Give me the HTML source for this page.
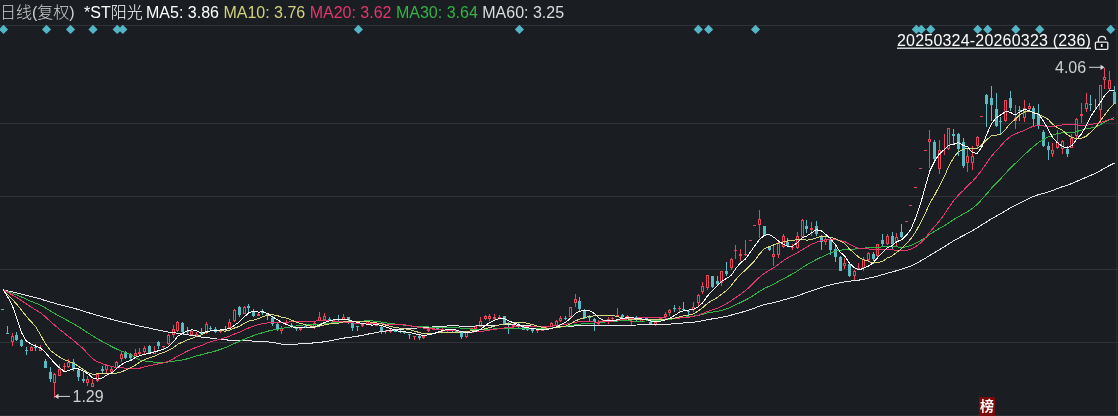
<!DOCTYPE html>
<html><head><meta charset="utf-8"><title>K</title>
<style>
html,body{margin:0;padding:0;background:#1a1d21;overflow:hidden}
body{width:1118px;height:416px;position:relative;font-family:"Liberation Sans","Noto Sans CJK SC",sans-serif;font-size:16px;line-height:18px;color:#fff}
.t{position:absolute;white-space:pre}
svg{position:absolute;left:0;top:0}
.c{position:relative;top:0px;font-weight:300}
</style></head><body>
<svg width="1118" height="416" viewBox="0 0 1118 416">
<rect x="0" y="25" width="1118" height="1" fill="#2f3237"/><rect x="0" y="123" width="1118" height="1" fill="#2f3237"/><rect x="0" y="196" width="1118" height="1" fill="#2f3237"/><rect x="0" y="269" width="1118" height="1" fill="#2f3237"/><rect x="0" y="342" width="1118" height="1" fill="#2f3237"/>
<rect x="0" y="410" width="1118" height="1" fill="#1e2125"/>
<rect x="0" y="415" width="1118" height="1" fill="#2b2e33"/>
<rect x="1116" y="0" width="1" height="416" fill="#2a2d32"/>
<path d="M-1.1,29.4L3.5,24.8L8.1,29.4L3.5,34Z" fill="#52b6c5"/><path d="M41.9,29.4L46.5,24.8L51.1,29.4L46.5,34Z" fill="#52b6c5"/><path d="M65.9,29.4L70.5,24.8L75.1,29.4L70.5,34Z" fill="#52b6c5"/><path d="M88.4,29.4L93.0,24.8L97.6,29.4L93.0,34Z" fill="#52b6c5"/><path d="M112.6,29.4L117.2,24.8L121.8,29.4L117.2,34Z" fill="#52b6c5"/><path d="M118.2,29.4L122.8,24.8L127.4,29.4L122.8,34Z" fill="#52b6c5"/><path d="M353.8,29.4L358.4,24.8L363.0,29.4L358.4,34Z" fill="#52b6c5"/><path d="M514.8,29.4L519.4,24.8L524.0,29.4L519.4,34Z" fill="#52b6c5"/><path d="M693.7,29.4L698.3,24.8L702.9,29.4L698.3,34Z" fill="#52b6c5"/><path d="M704.0,29.4L708.6,24.8L713.2,29.4L708.6,34Z" fill="#52b6c5"/><path d="M750.9,29.4L755.5,24.8L760.1,29.4L755.5,34Z" fill="#52b6c5"/><path d="M911.7,29.4L916.3,24.8L920.9,29.4L916.3,34Z" fill="#52b6c5"/><path d="M916.7,29.4L921.3,24.8L925.9,29.4L921.3,34Z" fill="#52b6c5"/><path d="M926.1,29.4L930.7,24.8L935.3,29.4L930.7,34Z" fill="#52b6c5"/><path d="M973.1,29.4L977.7,24.8L982.3,29.4L977.7,34Z" fill="#52b6c5"/><path d="M983.1,29.4L987.7,24.8L992.3,29.4L987.7,34Z" fill="#52b6c5"/><path d="M1011.2,29.4L1015.8,24.8L1020.4,29.4L1015.8,34Z" fill="#52b6c5"/><path d="M1035.1,29.4L1039.7,24.8L1044.3,29.4L1039.7,34Z" fill="#52b6c5"/><path d="M1106.1,29.4L1110.7,24.8L1115.3,29.4L1110.7,34Z" fill="#52b6c5"/>
<g shape-rendering="crispEdges">
<rect x="1" y="309" width="3" height="1" fill="#5abcc2"/>
<rect x="7" y="326" width="1" height="8" fill="#5abcc2"/>
<rect x="6" y="333" width="3" height="1" fill="#5abcc2"/>
<rect x="12" y="333" width="1" height="3" fill="#e4475a"/>
<rect x="12" y="342" width="1" height="4" fill="#e4475a"/>
<rect x="11" y="336" width="3" height="6" fill="#e4475a"/>
<rect x="12" y="337" width="1" height="4" fill="#1a1d21"/>
<rect x="16" y="332" width="1" height="9" fill="#5abcc2"/>
<rect x="15" y="335" width="3" height="5" fill="#5abcc2"/>
<rect x="21" y="339" width="1" height="8" fill="#5abcc2"/>
<rect x="20" y="340" width="3" height="6" fill="#5abcc2"/>
<rect x="26" y="347" width="1" height="8" fill="#5abcc2"/>
<rect x="25" y="350" width="3" height="1" fill="#5abcc2"/>
<rect x="31" y="346" width="1" height="1" fill="#e4475a"/>
<rect x="30" y="347" width="3" height="4" fill="#e4475a"/>
<rect x="31" y="348" width="1" height="2" fill="#1a1d21"/>
<rect x="35" y="344" width="1" height="7" fill="#5abcc2"/>
<rect x="34" y="347" width="3" height="1" fill="#5abcc2"/>
<rect x="40" y="345" width="1" height="3" fill="#e4475a"/>
<rect x="39" y="348" width="3" height="3" fill="#e4475a"/>
<rect x="40" y="349" width="1" height="1" fill="#1a1d21"/>
<rect x="45" y="359" width="1" height="9" fill="#5abcc2"/>
<rect x="44" y="361" width="3" height="7" fill="#5abcc2"/>
<rect x="50" y="367" width="1" height="15" fill="#5abcc2"/>
<rect x="49" y="372" width="3" height="7" fill="#5abcc2"/>
<rect x="54" y="373" width="1" height="1" fill="#e4475a"/>
<rect x="54" y="383" width="1" height="15" fill="#e4475a"/>
<rect x="53" y="374" width="3" height="9" fill="#e4475a"/>
<rect x="54" y="375" width="1" height="7" fill="#1a1d21"/>
<rect x="59" y="364" width="1" height="5" fill="#e4475a"/>
<rect x="58" y="369" width="3" height="7" fill="#e4475a"/>
<rect x="59" y="370" width="1" height="5" fill="#1a1d21"/>
<rect x="64" y="363" width="1" height="3" fill="#e4475a"/>
<rect x="64" y="367" width="1" height="4" fill="#e4475a"/>
<rect x="63" y="366" width="3" height="1" fill="#e4475a"/>
<rect x="68" y="359" width="1" height="3" fill="#e4475a"/>
<rect x="68" y="367" width="1" height="1" fill="#e4475a"/>
<rect x="67" y="362" width="3" height="5" fill="#e4475a"/>
<rect x="68" y="363" width="1" height="3" fill="#1a1d21"/>
<rect x="73" y="359" width="1" height="12" fill="#5abcc2"/>
<rect x="72" y="362" width="3" height="7" fill="#5abcc2"/>
<rect x="78" y="369" width="1" height="12" fill="#5abcc2"/>
<rect x="77" y="370" width="3" height="7" fill="#5abcc2"/>
<rect x="83" y="372" width="1" height="11" fill="#5abcc2"/>
<rect x="82" y="379" width="3" height="2" fill="#5abcc2"/>
<rect x="87" y="376" width="1" height="3" fill="#e4475a"/>
<rect x="87" y="383" width="1" height="3" fill="#e4475a"/>
<rect x="86" y="379" width="3" height="4" fill="#e4475a"/>
<rect x="87" y="380" width="1" height="2" fill="#1a1d21"/>
<rect x="92" y="379" width="1" height="4" fill="#e4475a"/>
<rect x="91" y="383" width="3" height="4" fill="#e4475a"/>
<rect x="92" y="384" width="1" height="2" fill="#1a1d21"/>
<rect x="97" y="381" width="1" height="1" fill="#e4475a"/>
<rect x="96" y="374" width="3" height="7" fill="#e4475a"/>
<rect x="97" y="375" width="1" height="5" fill="#1a1d21"/>
<rect x="102" y="366" width="1" height="7" fill="#5abcc2"/>
<rect x="101" y="369" width="3" height="2" fill="#5abcc2"/>
<rect x="106" y="364" width="1" height="1" fill="#e4475a"/>
<rect x="106" y="370" width="1" height="3" fill="#e4475a"/>
<rect x="105" y="365" width="3" height="5" fill="#e4475a"/>
<rect x="106" y="366" width="1" height="3" fill="#1a1d21"/>
<rect x="111" y="367" width="1" height="2" fill="#e4475a"/>
<rect x="111" y="372" width="1" height="2" fill="#e4475a"/>
<rect x="110" y="369" width="3" height="3" fill="#e4475a"/>
<rect x="111" y="370" width="1" height="1" fill="#1a1d21"/>
<rect x="116" y="361" width="1" height="1" fill="#e4475a"/>
<rect x="115" y="362" width="3" height="6" fill="#e4475a"/>
<rect x="116" y="363" width="1" height="4" fill="#1a1d21"/>
<rect x="121" y="352" width="1" height="2" fill="#e4475a"/>
<rect x="121" y="359" width="1" height="3" fill="#e4475a"/>
<rect x="120" y="354" width="3" height="5" fill="#e4475a"/>
<rect x="121" y="355" width="1" height="3" fill="#1a1d21"/>
<rect x="125" y="351" width="1" height="8" fill="#5abcc2"/>
<rect x="124" y="352" width="3" height="6" fill="#5abcc2"/>
<rect x="130" y="353" width="1" height="7" fill="#5abcc2"/>
<rect x="129" y="354" width="3" height="4" fill="#5abcc2"/>
<rect x="135" y="349" width="1" height="4" fill="#e4475a"/>
<rect x="134" y="353" width="3" height="3" fill="#e4475a"/>
<rect x="135" y="354" width="1" height="1" fill="#1a1d21"/>
<rect x="139" y="348" width="1" height="4" fill="#e4475a"/>
<rect x="139" y="354" width="1" height="1" fill="#e4475a"/>
<rect x="138" y="352" width="3" height="2" fill="#e4475a"/>
<rect x="144" y="346" width="1" height="2" fill="#e4475a"/>
<rect x="144" y="352" width="1" height="2" fill="#e4475a"/>
<rect x="143" y="348" width="3" height="4" fill="#e4475a"/>
<rect x="144" y="349" width="1" height="2" fill="#1a1d21"/>
<rect x="149" y="345" width="1" height="9" fill="#5abcc2"/>
<rect x="148" y="346" width="3" height="7" fill="#5abcc2"/>
<rect x="154" y="346" width="1" height="5" fill="#e4475a"/>
<rect x="153" y="351" width="3" height="3" fill="#e4475a"/>
<rect x="154" y="352" width="1" height="1" fill="#1a1d21"/>
<rect x="158" y="341" width="1" height="8" fill="#5abcc2"/>
<rect x="157" y="342" width="3" height="4" fill="#5abcc2"/>
<rect x="163" y="347" width="1" height="2" fill="#e4475a"/>
<rect x="162" y="346" width="3" height="1" fill="#e4475a"/>
<rect x="168" y="334" width="1" height="1" fill="#e4475a"/>
<rect x="168" y="344" width="1" height="1" fill="#e4475a"/>
<rect x="167" y="335" width="3" height="9" fill="#e4475a"/>
<rect x="168" y="336" width="1" height="7" fill="#1a1d21"/>
<rect x="173" y="325" width="1" height="4" fill="#e4475a"/>
<rect x="173" y="335" width="1" height="3" fill="#e4475a"/>
<rect x="172" y="329" width="3" height="6" fill="#e4475a"/>
<rect x="173" y="330" width="1" height="4" fill="#1a1d21"/>
<rect x="177" y="321" width="1" height="1" fill="#e4475a"/>
<rect x="177" y="331" width="1" height="1" fill="#e4475a"/>
<rect x="176" y="322" width="3" height="9" fill="#e4475a"/>
<rect x="177" y="323" width="1" height="7" fill="#1a1d21"/>
<rect x="182" y="322" width="1" height="11" fill="#5abcc2"/>
<rect x="181" y="323" width="3" height="9" fill="#5abcc2"/>
<rect x="187" y="327" width="1" height="7" fill="#5abcc2"/>
<rect x="186" y="331" width="3" height="1" fill="#5abcc2"/>
<rect x="191" y="330" width="1" height="1" fill="#e4475a"/>
<rect x="191" y="335" width="1" height="1" fill="#e4475a"/>
<rect x="190" y="331" width="3" height="4" fill="#e4475a"/>
<rect x="191" y="332" width="1" height="2" fill="#1a1d21"/>
<rect x="196" y="332" width="1" height="2" fill="#e4475a"/>
<rect x="195" y="334" width="3" height="2" fill="#e4475a"/>
<rect x="201" y="328" width="1" height="7" fill="#5abcc2"/>
<rect x="200" y="333" width="3" height="1" fill="#5abcc2"/>
<rect x="206" y="322" width="1" height="2" fill="#e4475a"/>
<rect x="206" y="332" width="1" height="2" fill="#e4475a"/>
<rect x="205" y="324" width="3" height="8" fill="#e4475a"/>
<rect x="206" y="325" width="1" height="6" fill="#1a1d21"/>
<rect x="210" y="326" width="1" height="5" fill="#5abcc2"/>
<rect x="209" y="328" width="3" height="1" fill="#5abcc2"/>
<rect x="215" y="327" width="1" height="6" fill="#5abcc2"/>
<rect x="214" y="329" width="3" height="3" fill="#5abcc2"/>
<rect x="220" y="329" width="1" height="1" fill="#e4475a"/>
<rect x="220" y="332" width="1" height="1" fill="#e4475a"/>
<rect x="219" y="330" width="3" height="2" fill="#e4475a"/>
<rect x="225" y="326" width="1" height="6" fill="#5abcc2"/>
<rect x="224" y="329" width="3" height="1" fill="#5abcc2"/>
<rect x="229" y="319" width="1" height="3" fill="#e4475a"/>
<rect x="228" y="322" width="3" height="6" fill="#e4475a"/>
<rect x="229" y="323" width="1" height="4" fill="#1a1d21"/>
<rect x="234" y="309" width="1" height="1" fill="#e4475a"/>
<rect x="234" y="321" width="1" height="1" fill="#e4475a"/>
<rect x="233" y="310" width="3" height="11" fill="#e4475a"/>
<rect x="234" y="311" width="1" height="9" fill="#1a1d21"/>
<rect x="239" y="306" width="1" height="11" fill="#5abcc2"/>
<rect x="238" y="307" width="3" height="8" fill="#5abcc2"/>
<rect x="244" y="306" width="1" height="1" fill="#e4475a"/>
<rect x="243" y="307" width="3" height="7" fill="#e4475a"/>
<rect x="244" y="308" width="1" height="5" fill="#1a1d21"/>
<rect x="248" y="304" width="1" height="8" fill="#5abcc2"/>
<rect x="247" y="306" width="3" height="2" fill="#5abcc2"/>
<rect x="253" y="309" width="1" height="8" fill="#5abcc2"/>
<rect x="252" y="311" width="3" height="5" fill="#5abcc2"/>
<rect x="258" y="313" width="1" height="1" fill="#e4475a"/>
<rect x="257" y="314" width="3" height="2" fill="#e4475a"/>
<rect x="262" y="309" width="1" height="6" fill="#5abcc2"/>
<rect x="261" y="312" width="3" height="1" fill="#5abcc2"/>
<rect x="267" y="314" width="1" height="6" fill="#5abcc2"/>
<rect x="266" y="314" width="3" height="2" fill="#5abcc2"/>
<rect x="272" y="317" width="1" height="9" fill="#5abcc2"/>
<rect x="271" y="318" width="3" height="6" fill="#5abcc2"/>
<rect x="277" y="323" width="1" height="8" fill="#5abcc2"/>
<rect x="276" y="324" width="3" height="6" fill="#5abcc2"/>
<rect x="281" y="326" width="1" height="2" fill="#e4475a"/>
<rect x="281" y="331" width="1" height="3" fill="#e4475a"/>
<rect x="280" y="328" width="3" height="3" fill="#e4475a"/>
<rect x="281" y="329" width="1" height="1" fill="#1a1d21"/>
<rect x="286" y="320" width="1" height="2" fill="#e4475a"/>
<rect x="286" y="323" width="1" height="1" fill="#e4475a"/>
<rect x="285" y="322" width="3" height="1" fill="#e4475a"/>
<rect x="291" y="323" width="1" height="5" fill="#5abcc2"/>
<rect x="290" y="325" width="3" height="2" fill="#5abcc2"/>
<rect x="296" y="327" width="1" height="4" fill="#5abcc2"/>
<rect x="295" y="328" width="3" height="1" fill="#5abcc2"/>
<rect x="300" y="327" width="1" height="1" fill="#e4475a"/>
<rect x="300" y="330" width="1" height="1" fill="#e4475a"/>
<rect x="299" y="328" width="3" height="2" fill="#e4475a"/>
<rect x="305" y="325" width="1" height="3" fill="#5abcc2"/>
<rect x="304" y="326" width="3" height="2" fill="#5abcc2"/>
<rect x="310" y="324" width="1" height="1" fill="#e4475a"/>
<rect x="310" y="326" width="1" height="1" fill="#e4475a"/>
<rect x="309" y="325" width="3" height="1" fill="#e4475a"/>
<rect x="314" y="321" width="1" height="2" fill="#e4475a"/>
<rect x="314" y="328" width="1" height="1" fill="#e4475a"/>
<rect x="313" y="323" width="3" height="5" fill="#e4475a"/>
<rect x="314" y="324" width="1" height="3" fill="#1a1d21"/>
<rect x="319" y="312" width="1" height="5" fill="#e4475a"/>
<rect x="318" y="317" width="3" height="4" fill="#e4475a"/>
<rect x="319" y="318" width="1" height="2" fill="#1a1d21"/>
<rect x="324" y="313" width="1" height="3" fill="#e4475a"/>
<rect x="324" y="320" width="1" height="1" fill="#e4475a"/>
<rect x="323" y="316" width="3" height="4" fill="#e4475a"/>
<rect x="324" y="317" width="1" height="2" fill="#1a1d21"/>
<rect x="329" y="317" width="1" height="4" fill="#5abcc2"/>
<rect x="328" y="319" width="3" height="1" fill="#5abcc2"/>
<rect x="332" y="320" width="3" height="2" fill="#e4475a"/>
<rect x="338" y="315" width="1" height="6" fill="#5abcc2"/>
<rect x="337" y="319" width="3" height="1" fill="#5abcc2"/>
<rect x="343" y="314" width="1" height="3" fill="#e4475a"/>
<rect x="342" y="317" width="3" height="3" fill="#e4475a"/>
<rect x="343" y="318" width="1" height="1" fill="#1a1d21"/>
<rect x="348" y="317" width="1" height="7" fill="#5abcc2"/>
<rect x="347" y="317" width="3" height="3" fill="#5abcc2"/>
<rect x="352" y="322" width="1" height="9" fill="#5abcc2"/>
<rect x="351" y="323" width="3" height="5" fill="#5abcc2"/>
<rect x="357" y="326" width="1" height="5" fill="#5abcc2"/>
<rect x="356" y="326" width="3" height="1" fill="#5abcc2"/>
<rect x="362" y="323" width="1" height="1" fill="#e4475a"/>
<rect x="362" y="326" width="1" height="1" fill="#e4475a"/>
<rect x="361" y="324" width="3" height="2" fill="#e4475a"/>
<rect x="367" y="320" width="1" height="1" fill="#e4475a"/>
<rect x="366" y="321" width="3" height="3" fill="#e4475a"/>
<rect x="367" y="322" width="1" height="1" fill="#1a1d21"/>
<rect x="371" y="322" width="1" height="3" fill="#5abcc2"/>
<rect x="370" y="323" width="3" height="1" fill="#5abcc2"/>
<rect x="376" y="323" width="1" height="1" fill="#e4475a"/>
<rect x="375" y="324" width="3" height="2" fill="#e4475a"/>
<rect x="381" y="326" width="1" height="8" fill="#5abcc2"/>
<rect x="380" y="327" width="3" height="5" fill="#5abcc2"/>
<rect x="385" y="330" width="1" height="1" fill="#e4475a"/>
<rect x="385" y="332" width="1" height="2" fill="#e4475a"/>
<rect x="384" y="331" width="3" height="1" fill="#e4475a"/>
<rect x="390" y="329" width="1" height="1" fill="#e4475a"/>
<rect x="390" y="332" width="1" height="1" fill="#e4475a"/>
<rect x="389" y="330" width="3" height="2" fill="#e4475a"/>
<rect x="395" y="330" width="1" height="2" fill="#5abcc2"/>
<rect x="394" y="330" width="3" height="2" fill="#5abcc2"/>
<rect x="400" y="330" width="1" height="3" fill="#5abcc2"/>
<rect x="399" y="331" width="3" height="1" fill="#5abcc2"/>
<rect x="404" y="331" width="1" height="3" fill="#5abcc2"/>
<rect x="403" y="332" width="3" height="1" fill="#5abcc2"/>
<rect x="409" y="334" width="1" height="5" fill="#5abcc2"/>
<rect x="408" y="334" width="3" height="1" fill="#5abcc2"/>
<rect x="414" y="337" width="1" height="3" fill="#e4475a"/>
<rect x="413" y="336" width="3" height="1" fill="#e4475a"/>
<rect x="419" y="335" width="1" height="5" fill="#5abcc2"/>
<rect x="418" y="336" width="3" height="2" fill="#5abcc2"/>
<rect x="423" y="335" width="1" height="1" fill="#e4475a"/>
<rect x="423" y="338" width="1" height="1" fill="#e4475a"/>
<rect x="422" y="336" width="3" height="2" fill="#e4475a"/>
<rect x="428" y="328" width="1" height="1" fill="#e4475a"/>
<rect x="428" y="331" width="1" height="1" fill="#e4475a"/>
<rect x="427" y="329" width="3" height="2" fill="#e4475a"/>
<rect x="433" y="329" width="1" height="1" fill="#e4475a"/>
<rect x="432" y="328" width="3" height="1" fill="#e4475a"/>
<rect x="437" y="326" width="1" height="3" fill="#5abcc2"/>
<rect x="436" y="327" width="3" height="2" fill="#5abcc2"/>
<rect x="442" y="328" width="1" height="1" fill="#e4475a"/>
<rect x="442" y="331" width="1" height="1" fill="#e4475a"/>
<rect x="441" y="329" width="3" height="2" fill="#e4475a"/>
<rect x="447" y="329" width="1" height="1" fill="#e4475a"/>
<rect x="447" y="331" width="1" height="1" fill="#e4475a"/>
<rect x="446" y="330" width="3" height="1" fill="#e4475a"/>
<rect x="452" y="329" width="1" height="3" fill="#5abcc2"/>
<rect x="451" y="330" width="3" height="1" fill="#5abcc2"/>
<rect x="456" y="330" width="1" height="2" fill="#5abcc2"/>
<rect x="455" y="330" width="3" height="2" fill="#5abcc2"/>
<rect x="461" y="331" width="1" height="8" fill="#5abcc2"/>
<rect x="460" y="332" width="3" height="5" fill="#5abcc2"/>
<rect x="466" y="337" width="1" height="1" fill="#e4475a"/>
<rect x="465" y="332" width="3" height="5" fill="#e4475a"/>
<rect x="466" y="333" width="1" height="3" fill="#1a1d21"/>
<rect x="471" y="330" width="1" height="1" fill="#e4475a"/>
<rect x="470" y="328" width="3" height="2" fill="#e4475a"/>
<rect x="475" y="325" width="1" height="1" fill="#e4475a"/>
<rect x="474" y="326" width="3" height="3" fill="#e4475a"/>
<rect x="475" y="327" width="1" height="1" fill="#1a1d21"/>
<rect x="480" y="317" width="1" height="4" fill="#e4475a"/>
<rect x="479" y="321" width="3" height="6" fill="#e4475a"/>
<rect x="480" y="322" width="1" height="4" fill="#1a1d21"/>
<rect x="485" y="315" width="1" height="1" fill="#e4475a"/>
<rect x="485" y="319" width="1" height="1" fill="#e4475a"/>
<rect x="484" y="316" width="3" height="3" fill="#e4475a"/>
<rect x="485" y="317" width="1" height="1" fill="#1a1d21"/>
<rect x="489" y="314" width="1" height="2" fill="#e4475a"/>
<rect x="489" y="319" width="1" height="2" fill="#e4475a"/>
<rect x="488" y="316" width="3" height="3" fill="#e4475a"/>
<rect x="489" y="317" width="1" height="1" fill="#1a1d21"/>
<rect x="494" y="314" width="1" height="3" fill="#e4475a"/>
<rect x="494" y="319" width="1" height="2" fill="#e4475a"/>
<rect x="493" y="317" width="3" height="2" fill="#e4475a"/>
<rect x="499" y="315" width="1" height="2" fill="#e4475a"/>
<rect x="499" y="318" width="1" height="1" fill="#e4475a"/>
<rect x="498" y="317" width="3" height="1" fill="#e4475a"/>
<rect x="504" y="316" width="1" height="9" fill="#5abcc2"/>
<rect x="503" y="316" width="3" height="8" fill="#5abcc2"/>
<rect x="508" y="322" width="1" height="12" fill="#5abcc2"/>
<rect x="507" y="327" width="3" height="2" fill="#5abcc2"/>
<rect x="513" y="322" width="1" height="3" fill="#e4475a"/>
<rect x="513" y="327" width="1" height="1" fill="#e4475a"/>
<rect x="512" y="325" width="3" height="2" fill="#e4475a"/>
<rect x="518" y="322" width="1" height="6" fill="#5abcc2"/>
<rect x="517" y="325" width="3" height="1" fill="#5abcc2"/>
<rect x="523" y="326" width="1" height="4" fill="#5abcc2"/>
<rect x="522" y="327" width="3" height="3" fill="#5abcc2"/>
<rect x="527" y="328" width="1" height="3" fill="#5abcc2"/>
<rect x="526" y="328" width="3" height="2" fill="#5abcc2"/>
<rect x="532" y="328" width="1" height="5" fill="#5abcc2"/>
<rect x="531" y="328" width="3" height="3" fill="#5abcc2"/>
<rect x="537" y="331" width="1" height="2" fill="#e4475a"/>
<rect x="536" y="329" width="3" height="2" fill="#e4475a"/>
<rect x="542" y="328" width="1" height="1" fill="#e4475a"/>
<rect x="541" y="329" width="3" height="2" fill="#e4475a"/>
<rect x="546" y="327" width="1" height="1" fill="#e4475a"/>
<rect x="545" y="328" width="3" height="1" fill="#e4475a"/>
<rect x="551" y="322" width="1" height="1" fill="#e4475a"/>
<rect x="550" y="323" width="3" height="4" fill="#e4475a"/>
<rect x="551" y="324" width="1" height="2" fill="#1a1d21"/>
<rect x="556" y="320" width="1" height="1" fill="#e4475a"/>
<rect x="555" y="321" width="3" height="5" fill="#e4475a"/>
<rect x="556" y="322" width="1" height="3" fill="#1a1d21"/>
<rect x="560" y="316" width="1" height="2" fill="#e4475a"/>
<rect x="560" y="321" width="1" height="1" fill="#e4475a"/>
<rect x="559" y="318" width="3" height="3" fill="#e4475a"/>
<rect x="560" y="319" width="1" height="1" fill="#1a1d21"/>
<rect x="565" y="316" width="1" height="4" fill="#5abcc2"/>
<rect x="564" y="318" width="3" height="1" fill="#5abcc2"/>
<rect x="570" y="317" width="1" height="1" fill="#e4475a"/>
<rect x="569" y="307" width="3" height="10" fill="#e4475a"/>
<rect x="570" y="308" width="1" height="8" fill="#1a1d21"/>
<rect x="575" y="294" width="1" height="5" fill="#e4475a"/>
<rect x="575" y="303" width="1" height="4" fill="#e4475a"/>
<rect x="574" y="299" width="3" height="4" fill="#e4475a"/>
<rect x="575" y="300" width="1" height="2" fill="#1a1d21"/>
<rect x="579" y="297" width="1" height="14" fill="#5abcc2"/>
<rect x="578" y="301" width="3" height="8" fill="#5abcc2"/>
<rect x="584" y="309" width="1" height="10" fill="#5abcc2"/>
<rect x="583" y="311" width="3" height="6" fill="#5abcc2"/>
<rect x="589" y="315" width="1" height="6" fill="#5abcc2"/>
<rect x="588" y="316" width="3" height="2" fill="#5abcc2"/>
<rect x="594" y="318" width="1" height="13" fill="#5abcc2"/>
<rect x="593" y="319" width="3" height="3" fill="#5abcc2"/>
<rect x="598" y="320" width="1" height="2" fill="#e4475a"/>
<rect x="598" y="324" width="1" height="2" fill="#e4475a"/>
<rect x="597" y="322" width="3" height="2" fill="#e4475a"/>
<rect x="603" y="322" width="1" height="1" fill="#e4475a"/>
<rect x="602" y="320" width="3" height="2" fill="#e4475a"/>
<rect x="608" y="317" width="1" height="2" fill="#e4475a"/>
<rect x="608" y="321" width="1" height="3" fill="#e4475a"/>
<rect x="607" y="319" width="3" height="2" fill="#e4475a"/>
<rect x="612" y="317" width="1" height="1" fill="#e4475a"/>
<rect x="612" y="319" width="1" height="3" fill="#e4475a"/>
<rect x="611" y="318" width="3" height="1" fill="#e4475a"/>
<rect x="617" y="308" width="1" height="7" fill="#e4475a"/>
<rect x="616" y="315" width="3" height="1" fill="#e4475a"/>
<rect x="622" y="314" width="1" height="4" fill="#5abcc2"/>
<rect x="621" y="315" width="3" height="2" fill="#5abcc2"/>
<rect x="627" y="315" width="1" height="1" fill="#e4475a"/>
<rect x="626" y="316" width="3" height="2" fill="#e4475a"/>
<rect x="631" y="320" width="1" height="1" fill="#e4475a"/>
<rect x="631" y="322" width="1" height="3" fill="#e4475a"/>
<rect x="630" y="321" width="3" height="1" fill="#e4475a"/>
<rect x="636" y="316" width="1" height="5" fill="#5abcc2"/>
<rect x="635" y="317" width="3" height="3" fill="#5abcc2"/>
<rect x="641" y="318" width="1" height="1" fill="#e4475a"/>
<rect x="640" y="319" width="3" height="3" fill="#e4475a"/>
<rect x="641" y="320" width="1" height="1" fill="#1a1d21"/>
<rect x="646" y="317" width="1" height="3" fill="#5abcc2"/>
<rect x="645" y="318" width="3" height="1" fill="#5abcc2"/>
<rect x="650" y="321" width="1" height="4" fill="#5abcc2"/>
<rect x="649" y="322" width="3" height="2" fill="#5abcc2"/>
<rect x="655" y="325" width="1" height="1" fill="#e4475a"/>
<rect x="654" y="322" width="3" height="3" fill="#e4475a"/>
<rect x="655" y="323" width="1" height="1" fill="#1a1d21"/>
<rect x="659" y="318" width="3" height="2" fill="#e4475a"/>
<rect x="665" y="312" width="1" height="2" fill="#e4475a"/>
<rect x="665" y="317" width="1" height="1" fill="#e4475a"/>
<rect x="664" y="314" width="3" height="3" fill="#e4475a"/>
<rect x="665" y="315" width="1" height="1" fill="#1a1d21"/>
<rect x="669" y="309" width="1" height="1" fill="#e4475a"/>
<rect x="669" y="313" width="1" height="3" fill="#e4475a"/>
<rect x="668" y="310" width="3" height="3" fill="#e4475a"/>
<rect x="669" y="311" width="1" height="1" fill="#1a1d21"/>
<rect x="674" y="305" width="1" height="7" fill="#5abcc2"/>
<rect x="673" y="308" width="3" height="1" fill="#5abcc2"/>
<rect x="679" y="306" width="1" height="2" fill="#e4475a"/>
<rect x="679" y="309" width="1" height="3" fill="#e4475a"/>
<rect x="678" y="308" width="3" height="1" fill="#e4475a"/>
<rect x="683" y="302" width="1" height="8" fill="#5abcc2"/>
<rect x="682" y="309" width="3" height="1" fill="#5abcc2"/>
<rect x="688" y="311" width="1" height="4" fill="#5abcc2"/>
<rect x="687" y="311" width="3" height="1" fill="#5abcc2"/>
<rect x="693" y="302" width="1" height="5" fill="#e4475a"/>
<rect x="693" y="310" width="1" height="2" fill="#e4475a"/>
<rect x="692" y="307" width="3" height="3" fill="#e4475a"/>
<rect x="693" y="308" width="1" height="1" fill="#1a1d21"/>
<rect x="698" y="294" width="1" height="1" fill="#e4475a"/>
<rect x="698" y="303" width="1" height="3" fill="#e4475a"/>
<rect x="697" y="295" width="3" height="8" fill="#e4475a"/>
<rect x="698" y="296" width="1" height="6" fill="#1a1d21"/>
<rect x="702" y="282" width="1" height="4" fill="#e4475a"/>
<rect x="702" y="292" width="1" height="2" fill="#e4475a"/>
<rect x="701" y="286" width="3" height="6" fill="#e4475a"/>
<rect x="702" y="287" width="1" height="4" fill="#1a1d21"/>
<rect x="707" y="288" width="1" height="2" fill="#e4475a"/>
<rect x="706" y="275" width="3" height="13" fill="#e4475a"/>
<rect x="707" y="276" width="1" height="11" fill="#1a1d21"/>
<rect x="712" y="276" width="1" height="12" fill="#5abcc2"/>
<rect x="711" y="276" width="3" height="11" fill="#5abcc2"/>
<rect x="717" y="276" width="1" height="10" fill="#5abcc2"/>
<rect x="716" y="281" width="3" height="3" fill="#5abcc2"/>
<rect x="721" y="283" width="1" height="3" fill="#e4475a"/>
<rect x="720" y="271" width="3" height="12" fill="#e4475a"/>
<rect x="721" y="272" width="1" height="10" fill="#1a1d21"/>
<rect x="726" y="262" width="1" height="14" fill="#5abcc2"/>
<rect x="725" y="271" width="3" height="3" fill="#5abcc2"/>
<rect x="731" y="258" width="1" height="1" fill="#e4475a"/>
<rect x="731" y="268" width="1" height="2" fill="#e4475a"/>
<rect x="730" y="259" width="3" height="9" fill="#e4475a"/>
<rect x="731" y="260" width="1" height="7" fill="#1a1d21"/>
<rect x="735" y="245" width="1" height="5" fill="#e4475a"/>
<rect x="735" y="251" width="1" height="8" fill="#e4475a"/>
<rect x="734" y="250" width="3" height="1" fill="#e4475a"/>
<rect x="740" y="249" width="1" height="5" fill="#e4475a"/>
<rect x="740" y="256" width="1" height="5" fill="#e4475a"/>
<rect x="739" y="254" width="3" height="2" fill="#e4475a"/>
<rect x="745" y="240" width="1" height="14" fill="#e4475a"/>
<rect x="745" y="255" width="1" height="1" fill="#e4475a"/>
<rect x="744" y="254" width="3" height="1" fill="#e4475a"/>
<rect x="749" y="240" width="3" height="1" fill="#e4475a"/>
<rect x="753" y="225" width="3" height="1" fill="#e4475a"/>
<rect x="759" y="210" width="1" height="9" fill="#e4475a"/>
<rect x="759" y="225" width="1" height="13" fill="#e4475a"/>
<rect x="758" y="219" width="3" height="6" fill="#e4475a"/>
<rect x="759" y="220" width="1" height="4" fill="#1a1d21"/>
<rect x="764" y="226" width="1" height="10" fill="#5abcc2"/>
<rect x="763" y="226" width="3" height="9" fill="#5abcc2"/>
<rect x="769" y="246" width="1" height="5" fill="#5abcc2"/>
<rect x="768" y="247" width="3" height="3" fill="#5abcc2"/>
<rect x="773" y="246" width="1" height="8" fill="#e4475a"/>
<rect x="773" y="257" width="1" height="9" fill="#e4475a"/>
<rect x="772" y="254" width="3" height="3" fill="#e4475a"/>
<rect x="773" y="255" width="1" height="1" fill="#1a1d21"/>
<rect x="778" y="242" width="1" height="1" fill="#e4475a"/>
<rect x="778" y="255" width="1" height="3" fill="#e4475a"/>
<rect x="777" y="243" width="3" height="12" fill="#e4475a"/>
<rect x="778" y="244" width="1" height="10" fill="#1a1d21"/>
<rect x="783" y="234" width="1" height="2" fill="#e4475a"/>
<rect x="783" y="247" width="1" height="1" fill="#e4475a"/>
<rect x="782" y="236" width="3" height="11" fill="#e4475a"/>
<rect x="783" y="237" width="1" height="9" fill="#1a1d21"/>
<rect x="787" y="238" width="1" height="9" fill="#5abcc2"/>
<rect x="786" y="242" width="3" height="4" fill="#5abcc2"/>
<rect x="792" y="244" width="1" height="3" fill="#e4475a"/>
<rect x="792" y="248" width="1" height="2" fill="#e4475a"/>
<rect x="791" y="247" width="3" height="1" fill="#e4475a"/>
<rect x="797" y="232" width="1" height="4" fill="#e4475a"/>
<rect x="797" y="248" width="1" height="1" fill="#e4475a"/>
<rect x="796" y="236" width="3" height="12" fill="#e4475a"/>
<rect x="797" y="237" width="1" height="10" fill="#1a1d21"/>
<rect x="802" y="219" width="1" height="1" fill="#e4475a"/>
<rect x="802" y="237" width="1" height="1" fill="#e4475a"/>
<rect x="801" y="220" width="3" height="17" fill="#e4475a"/>
<rect x="802" y="221" width="1" height="15" fill="#1a1d21"/>
<rect x="806" y="220" width="1" height="13" fill="#5abcc2"/>
<rect x="805" y="226" width="3" height="3" fill="#5abcc2"/>
<rect x="811" y="222" width="1" height="6" fill="#e4475a"/>
<rect x="811" y="230" width="1" height="6" fill="#e4475a"/>
<rect x="810" y="228" width="3" height="2" fill="#e4475a"/>
<rect x="816" y="221" width="1" height="15" fill="#5abcc2"/>
<rect x="815" y="226" width="3" height="8" fill="#5abcc2"/>
<rect x="821" y="235" width="1" height="15" fill="#5abcc2"/>
<rect x="820" y="236" width="3" height="6" fill="#5abcc2"/>
<rect x="825" y="234" width="1" height="5" fill="#e4475a"/>
<rect x="825" y="242" width="1" height="3" fill="#e4475a"/>
<rect x="824" y="239" width="3" height="3" fill="#e4475a"/>
<rect x="825" y="240" width="1" height="1" fill="#1a1d21"/>
<rect x="830" y="238" width="1" height="17" fill="#5abcc2"/>
<rect x="829" y="239" width="3" height="11" fill="#5abcc2"/>
<rect x="835" y="246" width="1" height="16" fill="#5abcc2"/>
<rect x="834" y="249" width="3" height="8" fill="#5abcc2"/>
<rect x="840" y="256" width="1" height="15" fill="#5abcc2"/>
<rect x="839" y="257" width="3" height="14" fill="#5abcc2"/>
<rect x="844" y="258" width="1" height="5" fill="#e4475a"/>
<rect x="844" y="266" width="1" height="3" fill="#e4475a"/>
<rect x="843" y="263" width="3" height="3" fill="#e4475a"/>
<rect x="844" y="264" width="1" height="1" fill="#1a1d21"/>
<rect x="849" y="263" width="1" height="14" fill="#5abcc2"/>
<rect x="848" y="264" width="3" height="12" fill="#5abcc2"/>
<rect x="854" y="270" width="1" height="1" fill="#e4475a"/>
<rect x="854" y="276" width="1" height="5" fill="#e4475a"/>
<rect x="853" y="271" width="3" height="5" fill="#e4475a"/>
<rect x="854" y="272" width="1" height="3" fill="#1a1d21"/>
<rect x="858" y="263" width="1" height="5" fill="#e4475a"/>
<rect x="857" y="268" width="3" height="1" fill="#e4475a"/>
<rect x="863" y="257" width="1" height="2" fill="#e4475a"/>
<rect x="863" y="268" width="1" height="3" fill="#e4475a"/>
<rect x="862" y="259" width="3" height="9" fill="#e4475a"/>
<rect x="863" y="260" width="1" height="7" fill="#1a1d21"/>
<rect x="868" y="252" width="1" height="1" fill="#e4475a"/>
<rect x="868" y="260" width="1" height="1" fill="#e4475a"/>
<rect x="867" y="253" width="3" height="7" fill="#e4475a"/>
<rect x="868" y="254" width="1" height="5" fill="#1a1d21"/>
<rect x="873" y="252" width="1" height="9" fill="#5abcc2"/>
<rect x="872" y="254" width="3" height="5" fill="#5abcc2"/>
<rect x="877" y="256" width="1" height="1" fill="#e4475a"/>
<rect x="876" y="244" width="3" height="12" fill="#e4475a"/>
<rect x="877" y="245" width="1" height="10" fill="#1a1d21"/>
<rect x="882" y="234" width="1" height="12" fill="#5abcc2"/>
<rect x="881" y="240" width="3" height="4" fill="#5abcc2"/>
<rect x="887" y="234" width="1" height="2" fill="#e4475a"/>
<rect x="887" y="244" width="1" height="1" fill="#e4475a"/>
<rect x="886" y="236" width="3" height="8" fill="#e4475a"/>
<rect x="887" y="237" width="1" height="6" fill="#1a1d21"/>
<rect x="892" y="232" width="1" height="18" fill="#5abcc2"/>
<rect x="891" y="236" width="3" height="8" fill="#5abcc2"/>
<rect x="896" y="233" width="1" height="4" fill="#e4475a"/>
<rect x="896" y="242" width="1" height="4" fill="#e4475a"/>
<rect x="895" y="237" width="3" height="5" fill="#e4475a"/>
<rect x="896" y="238" width="1" height="3" fill="#1a1d21"/>
<rect x="901" y="224" width="1" height="14" fill="#5abcc2"/>
<rect x="900" y="232" width="3" height="5" fill="#5abcc2"/>
<rect x="905" y="221" width="3" height="1" fill="#e4475a"/>
<rect x="909" y="205" width="3" height="1" fill="#e4475a"/>
<rect x="914" y="187" width="3" height="1" fill="#e4475a"/>
<rect x="919" y="168" width="3" height="1" fill="#e4475a"/>
<rect x="924" y="150" width="3" height="1" fill="#e4475a"/>
<rect x="929" y="130" width="1" height="9" fill="#e4475a"/>
<rect x="929" y="142" width="1" height="26" fill="#e4475a"/>
<rect x="928" y="139" width="3" height="3" fill="#e4475a"/>
<rect x="929" y="140" width="1" height="1" fill="#1a1d21"/>
<rect x="934" y="140" width="1" height="20" fill="#5abcc2"/>
<rect x="933" y="142" width="3" height="17" fill="#5abcc2"/>
<rect x="939" y="140" width="1" height="10" fill="#e4475a"/>
<rect x="939" y="169" width="1" height="5" fill="#e4475a"/>
<rect x="938" y="150" width="3" height="19" fill="#e4475a"/>
<rect x="939" y="151" width="1" height="17" fill="#1a1d21"/>
<rect x="944" y="134" width="1" height="21" fill="#e4475a"/>
<rect x="948" y="149" width="1" height="1" fill="#e4475a"/>
<rect x="947" y="128" width="3" height="21" fill="#e4475a"/>
<rect x="948" y="129" width="1" height="19" fill="#1a1d21"/>
<rect x="953" y="129" width="1" height="15" fill="#5abcc2"/>
<rect x="952" y="134" width="3" height="2" fill="#5abcc2"/>
<rect x="958" y="133" width="1" height="23" fill="#5abcc2"/>
<rect x="957" y="134" width="3" height="15" fill="#5abcc2"/>
<rect x="963" y="138" width="1" height="30" fill="#5abcc2"/>
<rect x="962" y="142" width="3" height="24" fill="#5abcc2"/>
<rect x="967" y="149" width="1" height="7" fill="#e4475a"/>
<rect x="967" y="163" width="1" height="9" fill="#e4475a"/>
<rect x="966" y="156" width="3" height="7" fill="#e4475a"/>
<rect x="967" y="157" width="1" height="5" fill="#1a1d21"/>
<rect x="972" y="146" width="1" height="10" fill="#e4475a"/>
<rect x="972" y="163" width="1" height="7" fill="#e4475a"/>
<rect x="971" y="156" width="3" height="7" fill="#e4475a"/>
<rect x="972" y="157" width="1" height="5" fill="#1a1d21"/>
<rect x="977" y="136" width="1" height="1" fill="#e4475a"/>
<rect x="977" y="146" width="1" height="3" fill="#e4475a"/>
<rect x="976" y="137" width="3" height="9" fill="#e4475a"/>
<rect x="977" y="138" width="1" height="7" fill="#1a1d21"/>
<rect x="980" y="116" width="3" height="1" fill="#e4475a"/>
<rect x="986" y="94" width="1" height="33" fill="#5abcc2"/>
<rect x="985" y="95" width="3" height="9" fill="#5abcc2"/>
<rect x="991" y="86" width="1" height="35" fill="#5abcc2"/>
<rect x="990" y="98" width="3" height="7" fill="#5abcc2"/>
<rect x="996" y="93" width="1" height="34" fill="#5abcc2"/>
<rect x="995" y="109" width="3" height="17" fill="#5abcc2"/>
<rect x="1000" y="117" width="1" height="17" fill="#5abcc2"/>
<rect x="999" y="121" width="3" height="1" fill="#5abcc2"/>
<rect x="1005" y="121" width="1" height="1" fill="#e4475a"/>
<rect x="1004" y="100" width="3" height="21" fill="#e4475a"/>
<rect x="1005" y="101" width="1" height="19" fill="#1a1d21"/>
<rect x="1010" y="91" width="1" height="20" fill="#5abcc2"/>
<rect x="1009" y="98" width="3" height="10" fill="#5abcc2"/>
<rect x="1015" y="105" width="1" height="13" fill="#e4475a"/>
<rect x="1015" y="121" width="1" height="8" fill="#e4475a"/>
<rect x="1014" y="118" width="3" height="3" fill="#e4475a"/>
<rect x="1015" y="119" width="1" height="1" fill="#1a1d21"/>
<rect x="1019" y="106" width="1" height="15" fill="#5abcc2"/>
<rect x="1018" y="110" width="3" height="1" fill="#5abcc2"/>
<rect x="1024" y="100" width="1" height="8" fill="#e4475a"/>
<rect x="1024" y="118" width="1" height="4" fill="#e4475a"/>
<rect x="1023" y="108" width="3" height="10" fill="#e4475a"/>
<rect x="1024" y="109" width="1" height="8" fill="#1a1d21"/>
<rect x="1029" y="103" width="1" height="3" fill="#e4475a"/>
<rect x="1029" y="109" width="1" height="3" fill="#e4475a"/>
<rect x="1028" y="106" width="3" height="3" fill="#e4475a"/>
<rect x="1029" y="107" width="1" height="1" fill="#1a1d21"/>
<rect x="1033" y="106" width="1" height="20" fill="#5abcc2"/>
<rect x="1032" y="108" width="3" height="11" fill="#5abcc2"/>
<rect x="1038" y="104" width="1" height="25" fill="#5abcc2"/>
<rect x="1037" y="114" width="3" height="11" fill="#5abcc2"/>
<rect x="1043" y="130" width="1" height="17" fill="#5abcc2"/>
<rect x="1042" y="132" width="3" height="14" fill="#5abcc2"/>
<rect x="1048" y="142" width="1" height="18" fill="#5abcc2"/>
<rect x="1047" y="146" width="3" height="4" fill="#5abcc2"/>
<rect x="1052" y="143" width="1" height="7" fill="#e4475a"/>
<rect x="1052" y="154" width="1" height="3" fill="#e4475a"/>
<rect x="1051" y="150" width="3" height="4" fill="#e4475a"/>
<rect x="1052" y="151" width="1" height="2" fill="#1a1d21"/>
<rect x="1057" y="130" width="1" height="12" fill="#e4475a"/>
<rect x="1057" y="148" width="1" height="1" fill="#e4475a"/>
<rect x="1056" y="142" width="3" height="6" fill="#e4475a"/>
<rect x="1057" y="143" width="1" height="4" fill="#1a1d21"/>
<rect x="1062" y="140" width="1" height="1" fill="#e4475a"/>
<rect x="1062" y="149" width="1" height="5" fill="#e4475a"/>
<rect x="1061" y="141" width="3" height="8" fill="#e4475a"/>
<rect x="1062" y="142" width="1" height="6" fill="#1a1d21"/>
<rect x="1067" y="146" width="1" height="11" fill="#5abcc2"/>
<rect x="1066" y="149" width="3" height="5" fill="#5abcc2"/>
<rect x="1071" y="134" width="1" height="4" fill="#e4475a"/>
<rect x="1070" y="138" width="3" height="10" fill="#e4475a"/>
<rect x="1071" y="139" width="1" height="8" fill="#1a1d21"/>
<rect x="1076" y="118" width="1" height="1" fill="#e4475a"/>
<rect x="1076" y="136" width="1" height="3" fill="#e4475a"/>
<rect x="1075" y="119" width="3" height="17" fill="#e4475a"/>
<rect x="1076" y="120" width="1" height="15" fill="#1a1d21"/>
<rect x="1081" y="103" width="1" height="11" fill="#e4475a"/>
<rect x="1081" y="116" width="1" height="7" fill="#e4475a"/>
<rect x="1080" y="114" width="3" height="2" fill="#e4475a"/>
<rect x="1086" y="93" width="1" height="10" fill="#e4475a"/>
<rect x="1086" y="109" width="1" height="3" fill="#e4475a"/>
<rect x="1085" y="103" width="3" height="6" fill="#e4475a"/>
<rect x="1086" y="104" width="1" height="4" fill="#1a1d21"/>
<rect x="1090" y="95" width="1" height="16" fill="#5abcc2"/>
<rect x="1089" y="104" width="3" height="1" fill="#5abcc2"/>
<rect x="1095" y="99" width="1" height="11" fill="#5abcc2"/>
<rect x="1100" y="110" width="1" height="11" fill="#e4475a"/>
<rect x="1099" y="85" width="3" height="25" fill="#e4475a"/>
<rect x="1100" y="86" width="1" height="23" fill="#1a1d21"/>
<rect x="1104" y="68" width="1" height="9" fill="#e4475a"/>
<rect x="1104" y="80" width="1" height="9" fill="#e4475a"/>
<rect x="1103" y="77" width="3" height="3" fill="#e4475a"/>
<rect x="1104" y="78" width="1" height="1" fill="#1a1d21"/>
<rect x="1109" y="71" width="1" height="9" fill="#e4475a"/>
<rect x="1109" y="89" width="1" height="1" fill="#e4475a"/>
<rect x="1108" y="80" width="3" height="9" fill="#e4475a"/>
<rect x="1109" y="81" width="1" height="7" fill="#1a1d21"/>
<rect x="1114" y="86" width="1" height="18" fill="#5abcc2"/>
<rect x="1113" y="92" width="3" height="12" fill="#5abcc2"/>
</g>
<polyline points="2.8,289.9 7.5,290.9 12.2,291.9 17.0,293.0 21.7,294.1 26.4,295.4 31.2,296.6 35.9,297.8 40.6,299.0 45.3,300.6 50.1,302.0 54.8,303.3 59.5,304.6 64.3,305.8 69.0,307.0 73.7,308.2 78.5,309.6 83.2,311.0 87.9,312.5 92.6,314.0 97.4,315.3 102.1,316.7 106.8,318.0 111.6,319.3 116.3,320.6 121.0,321.7 125.8,322.8 130.5,324.0 135.2,325.1 139.9,326.1 144.7,327.1 149.4,328.2 154.1,329.3 158.9,330.2 163.6,331.2 168.3,332.0 173.1,332.7 177.8,333.2 182.5,334.0 187.3,334.7 192.0,335.4 196.7,336.2 201.4,337.0 206.2,337.5 210.9,338.2 215.6,338.9 220.4,339.4 225.1,339.8 229.8,340.2 234.6,340.3 239.3,340.5 244.0,340.6 248.7,340.8 253.5,341.1 258.2,341.4 262.9,341.6 267.7,341.9 272.4,342.3 277.1,343.2 281.9,344.1 286.6,344.3 291.3,344.2 296.0,344.1 300.8,343.9 305.5,343.6 310.2,343.2 315.0,342.8 319.7,342.3 324.4,341.8 329.2,341.0 333.9,340.0 338.6,339.1 343.4,338.2 348.1,337.4 352.8,336.9 357.5,336.2 362.3,335.3 367.0,334.3 371.7,333.4 376.5,332.4 381.2,331.7 385.9,331.0 390.7,330.4 395.4,329.8 400.1,329.3 404.8,328.9 409.6,328.5 414.3,328.2 419.0,327.9 423.8,327.6 428.5,327.3 433.2,326.9 438.0,326.5 442.7,326.2 447.4,326.0 452.1,325.9 456.9,325.9 461.6,326.1 466.3,326.2 471.1,326.1 475.8,326.0 480.5,325.8 485.3,325.5 490.0,325.4 494.7,325.2 499.5,325.0 504.2,324.9 508.9,324.8 513.6,324.9 518.4,325.1 523.1,325.4 527.8,325.8 532.6,326.1 537.3,326.4 542.0,326.6 546.8,326.9 551.5,327.0 556.2,327.0 560.9,326.8 565.7,326.6 570.4,326.4 575.1,325.9 579.9,325.6 584.6,325.4 589.3,325.2 594.1,325.2 598.8,325.2 603.5,325.2 608.2,325.3 613.0,325.2 617.7,325.2 622.4,325.1 627.2,325.1 631.9,325.1 636.6,325.0 641.4,324.9 646.1,324.8 650.8,324.8 655.6,324.8 660.3,324.7 665.0,324.4 669.7,324.1 674.5,323.7 679.2,323.3 683.9,322.9 688.7,322.6 693.4,322.2 698.1,321.5 702.9,320.6 707.6,319.6 712.3,318.9 717.0,318.2 721.8,317.2 726.5,316.3 731.2,315.1 736.0,313.8 740.7,312.5 745.4,311.2 750.2,309.6 754.9,307.9 759.6,306.1 764.3,304.7 769.1,303.6 773.8,302.5 778.5,301.3 783.3,300.0 788.0,298.7 792.7,297.3 797.5,295.8 802.2,294.1 806.9,292.4 811.7,290.7 816.4,289.1 821.1,287.6 825.8,286.1 830.6,284.8 835.3,283.7 840.0,282.9 844.8,281.9 849.5,281.2 854.2,280.6 859.0,280.1 863.7,279.3 868.4,278.2 873.1,277.2 877.9,276.0 882.6,274.6 887.3,273.2 892.1,272.0 896.8,270.6 901.5,269.3 906.3,267.7 911.0,265.9 915.7,263.6 920.4,261.1 925.2,258.3 929.9,255.3 934.6,252.6 939.4,249.7 944.1,246.9 948.8,243.8 953.6,240.8 958.3,238.2 963.0,235.8 967.8,233.2 972.5,230.6 977.2,227.8 981.9,224.8 986.7,221.8 991.4,218.9 996.1,216.2 1000.9,213.5 1005.6,210.7 1010.3,207.9 1015.1,205.6 1019.8,203.2 1024.5,200.8 1029.2,198.3 1034.0,196.3 1038.7,194.6 1043.4,193.4 1048.2,192.0 1052.9,190.3 1057.6,188.4 1062.4,186.7 1067.1,185.3 1071.8,183.5 1076.5,181.4 1081.3,179.4 1086.0,177.4 1090.7,175.4 1095.5,173.3 1100.2,170.8 1104.9,168.1 1109.7,165.4 1114.4,163.0" fill="none" stroke="#e6e6ea" stroke-width="1.0" stroke-linejoin="round" shape-rendering="crispEdges"/>
<polyline points="2.8,289.9 7.5,291.5 12.2,293.2 17.0,295.1 21.7,297.1 26.4,299.3 31.2,301.4 35.9,303.3 40.6,305.2 45.3,307.8 50.1,310.8 54.8,313.6 59.5,316.3 64.3,318.8 69.0,321.3 73.7,323.9 78.5,326.8 83.2,329.8 87.9,332.8 92.6,335.9 97.4,338.8 102.1,341.4 106.8,343.9 111.6,346.6 116.3,348.9 121.0,350.9 125.8,352.8 130.5,354.8 135.2,357.4 139.9,359.9 144.7,361.0 149.4,361.6 154.1,362.2 158.9,362.4 163.6,362.4 168.3,362.0 173.1,361.4 177.8,360.5 182.5,360.0 187.3,358.8 192.0,357.2 196.7,355.9 201.4,354.8 206.2,353.3 210.9,352.2 215.6,351.0 220.4,349.4 225.1,347.7 229.8,345.8 234.6,343.4 239.3,341.4 244.0,339.3 248.7,337.4 253.5,335.6 258.2,334.0 262.9,332.6 267.7,331.2 272.4,330.1 277.1,329.3 281.9,328.5 286.6,327.6 291.3,326.7 296.0,326.0 300.8,325.4 305.5,324.7 310.2,324.4 315.0,324.2 319.7,324.1 324.4,323.5 329.2,323.1 333.9,322.8 338.6,322.2 343.4,321.7 348.1,321.5 352.8,321.5 357.5,321.3 362.3,321.1 367.0,320.9 371.7,320.9 376.5,321.4 381.2,322.0 385.9,322.8 390.7,323.5 395.4,324.1 400.1,324.6 404.8,325.3 409.6,325.9 414.3,326.3 419.0,326.6 423.8,326.8 428.5,327.0 433.2,327.1 438.0,327.1 442.7,327.1 447.4,327.2 452.1,327.4 456.9,327.6 461.6,328.2 466.3,328.8 471.1,329.1 475.8,329.3 480.5,329.3 485.3,329.3 490.0,329.2 494.7,328.9 499.5,328.6 504.2,328.6 508.9,328.8 513.6,328.8 518.4,328.9 523.1,328.8 527.8,328.7 532.6,328.7 537.3,328.7 542.0,328.6 546.8,328.4 551.5,328.1 556.2,327.6 560.9,327.0 565.7,326.4 570.4,325.7 575.1,324.8 579.9,324.1 584.6,323.7 589.3,323.3 594.1,323.0 598.8,322.7 603.5,322.2 608.2,321.7 613.0,321.4 617.7,321.0 622.4,320.9 627.2,320.8 631.9,321.0 636.6,321.1 641.4,321.1 646.1,321.0 650.8,320.8 655.6,320.7 660.3,320.5 665.0,320.0 669.7,319.4 674.5,318.7 679.2,318.0 683.9,317.3 688.7,316.7 693.4,316.2 698.1,315.3 702.9,314.3 707.6,312.8 712.3,312.1 717.0,311.6 721.8,310.3 726.5,308.9 731.2,307.0 736.0,304.6 740.7,302.4 745.4,300.1 750.2,297.5 754.9,294.4 759.6,291.2 764.3,288.5 769.1,286.3 773.8,284.1 778.5,281.5 783.3,278.8 788.0,276.3 792.7,273.8 797.5,270.9 802.2,267.7 806.9,264.8 811.7,262.1 816.4,259.5 821.1,257.3 825.8,255.0 830.6,252.9 835.3,251.2 840.0,250.4 844.8,249.6 849.5,249.6 854.2,249.1 859.0,248.6 863.7,248.2 868.4,247.5 873.1,247.5 877.9,247.3 882.6,246.9 887.3,246.3 892.1,246.4 896.8,246.8 901.5,247.4 906.3,246.9 911.0,245.5 915.7,243.2 920.4,240.7 925.2,237.9 929.9,234.3 934.6,231.3 939.4,228.5 944.1,226.1 948.8,222.7 953.6,219.6 958.3,216.8 963.0,214.2 967.8,211.5 972.5,208.4 977.2,204.4 981.9,199.3 986.7,193.9 991.4,188.3 996.1,183.4 1000.9,178.5 1005.6,173.2 1010.3,168.3 1015.1,163.6 1019.8,159.2 1024.5,154.6 1029.2,150.3 1034.0,146.1 1038.7,142.4 1043.4,139.4 1048.2,137.0 1052.9,135.1 1057.6,133.6 1062.4,132.7 1067.1,132.8 1071.8,132.8 1076.5,131.5 1081.3,130.3 1086.0,128.8 1090.7,128.0 1095.5,127.0 1100.2,124.9 1104.9,121.9 1109.7,119.4 1114.4,117.6" fill="none" stroke="#32b446" stroke-width="1.0" stroke-linejoin="round" shape-rendering="crispEdges"/>
<polyline points="2.8,289.9 7.5,292.3 12.2,294.9 17.0,297.6 21.7,300.7 26.4,303.9 31.2,307.1 35.9,310.0 40.6,312.9 45.3,316.8 50.1,321.2 54.8,325.4 59.5,329.4 64.3,333.2 69.0,336.8 73.7,340.6 78.5,344.7 83.2,348.7 87.9,353.8 92.6,358.8 97.4,361.7 102.1,363.6 106.8,365.1 111.6,366.5 116.3,367.4 121.0,367.7 125.8,368.2 130.5,368.7 135.2,368.9 139.9,368.2 144.7,366.7 149.4,365.6 154.1,364.8 158.9,363.7 163.6,362.9 168.3,361.3 173.1,358.9 177.8,356.0 182.5,353.7 187.3,351.1 192.0,348.9 196.7,347.2 201.4,345.6 206.2,343.3 210.9,341.6 215.6,340.5 220.4,339.1 225.1,337.7 229.8,336.1 234.6,334.0 239.3,332.3 244.0,330.1 248.7,327.9 253.5,326.3 258.2,324.7 262.9,323.6 267.7,322.9 272.4,323.0 277.1,322.9 281.9,322.7 286.6,322.2 291.3,321.8 296.0,321.6 300.8,321.8 305.5,321.8 310.2,321.4 315.0,321.1 319.7,320.5 324.4,320.2 329.2,320.7 333.9,321.0 338.6,321.6 343.4,322.1 348.1,322.3 352.8,322.9 357.5,323.6 362.3,324.0 367.0,323.9 371.7,323.6 376.5,323.4 381.2,323.9 385.9,324.1 390.7,324.2 395.4,324.3 400.1,324.6 404.8,324.9 409.6,325.4 414.3,326.4 419.0,327.4 423.8,328.2 428.5,328.7 433.2,329.1 438.0,329.6 442.7,330.1 447.4,330.3 452.1,330.5 456.9,330.8 461.6,331.5 466.3,332.0 471.1,332.2 475.8,331.9 480.5,331.4 485.3,330.8 490.0,330.0 494.7,329.3 499.5,328.6 504.2,328.0 508.9,327.6 513.6,327.0 518.4,326.5 523.1,326.5 527.8,326.6 532.6,326.7 537.3,326.7 542.0,326.7 546.8,326.5 551.5,326.2 556.2,325.4 560.9,324.7 565.7,324.2 570.4,323.3 575.1,322.2 579.9,321.8 584.6,321.8 589.3,321.8 594.1,322.0 598.8,322.0 603.5,321.6 608.2,321.3 613.0,321.0 617.7,320.3 622.4,319.6 627.2,318.9 631.9,318.5 636.6,318.0 641.4,317.6 646.1,317.4 650.8,317.5 655.6,317.7 660.3,317.7 665.0,318.0 669.7,318.5 674.5,318.5 679.2,318.1 683.9,317.7 688.7,317.2 693.4,316.4 698.1,315.2 702.9,313.5 707.6,311.4 712.3,309.9 717.0,308.3 721.8,306.1 726.5,303.7 731.2,300.7 736.0,297.3 740.7,294.1 745.4,290.6 750.2,286.5 754.9,281.8 759.6,277.1 764.3,273.3 769.1,270.4 773.8,267.7 778.5,264.4 783.3,260.7 788.0,257.6 792.7,255.2 797.5,252.6 802.2,249.9 806.9,247.0 811.7,244.2 816.4,242.3 821.1,240.7 825.8,239.7 830.6,239.7 835.3,239.7 840.0,240.5 844.8,241.7 849.5,244.1 854.2,246.7 859.0,248.4 863.7,248.9 868.4,248.9 873.1,249.6 877.9,250.0 882.6,249.9 887.3,249.4 892.1,249.7 896.8,250.6 901.5,251.0 906.3,250.6 911.0,249.2 915.7,246.6 920.4,243.0 925.2,238.1 929.9,232.2 934.6,226.6 939.4,221.0 944.1,214.6 948.8,207.4 953.6,200.8 958.3,195.2 963.0,190.8 967.8,185.7 972.5,181.3 977.2,176.0 981.9,169.9 986.7,162.9 991.4,156.3 996.1,150.8 1000.9,145.8 1005.6,140.5 1010.3,136.5 1015.1,134.0 1019.8,132.0 1024.5,130.4 1029.2,127.8 1034.0,126.2 1038.7,125.1 1043.4,125.9 1048.2,126.7 1052.9,126.8 1057.6,125.6 1062.4,124.9 1067.1,124.7 1071.8,124.8 1076.5,124.9 1081.3,125.5 1086.0,125.4 1090.7,124.4 1095.5,123.5 1100.2,122.7 1104.9,121.2 1109.7,119.3 1114.4,119.0" fill="none" stroke="#e2386c" stroke-width="1.0" stroke-linejoin="round" shape-rendering="crispEdges"/>
<polyline points="2.8,289.9 7.5,294.4 12.2,299.3 17.0,304.5 21.7,310.3 26.4,316.5 31.2,321.7 35.9,327.1 40.6,335.0 45.3,343.7 50.1,350.1 54.8,353.7 59.5,357.0 64.3,359.7 69.0,361.5 73.7,363.3 78.5,366.2 83.2,369.5 87.9,372.6 92.6,374.2 97.4,373.9 102.1,373.5 106.8,373.1 111.6,373.4 116.3,373.3 121.0,372.0 125.8,370.1 130.5,367.8 135.2,365.2 139.9,362.2 144.7,359.5 149.4,357.8 154.1,356.4 158.9,354.0 163.6,352.5 168.3,350.6 173.1,347.8 177.8,344.2 182.5,342.1 187.3,340.0 192.0,338.3 196.7,336.5 201.4,334.8 206.2,332.6 210.9,330.7 215.6,330.3 220.4,330.4 225.1,331.2 229.8,330.2 234.6,328.0 239.3,326.4 244.0,323.6 248.7,321.0 253.5,320.1 258.2,318.7 262.9,316.8 267.7,315.3 272.4,314.8 277.1,315.5 281.9,317.3 286.6,318.1 291.3,320.0 296.0,322.1 300.8,323.5 305.5,324.8 310.2,326.1 315.0,326.8 319.7,326.2 324.4,324.9 329.2,324.0 333.9,323.8 338.6,323.1 343.4,322.0 348.1,321.0 352.8,321.0 357.5,321.1 362.3,321.2 367.0,321.6 371.7,322.3 376.5,322.9 381.2,323.9 385.9,325.1 390.7,326.4 395.4,327.6 400.1,328.1 404.8,328.7 409.6,329.7 414.3,331.1 419.0,332.4 423.8,333.6 428.5,333.4 433.2,333.1 438.0,332.9 442.7,332.6 447.4,332.4 452.1,332.2 456.9,332.0 461.6,332.0 466.3,331.5 471.1,330.8 475.8,330.5 480.5,329.8 485.3,328.7 490.0,327.4 494.7,326.2 499.5,324.9 504.2,324.1 508.9,323.3 513.6,322.5 518.4,322.2 523.1,322.6 527.8,323.3 532.6,324.7 537.3,326.0 542.0,327.2 546.8,328.2 551.5,328.2 556.2,327.6 560.9,326.9 565.7,326.2 570.4,324.0 575.1,321.1 579.9,319.0 584.6,317.7 589.3,316.5 594.1,315.8 598.8,315.7 603.5,315.7 608.2,315.7 613.0,315.7 617.7,316.5 622.4,318.2 627.2,318.9 631.9,319.3 636.6,319.5 641.4,319.3 646.1,319.0 650.8,319.3 655.6,319.6 660.3,319.6 665.0,319.5 669.7,318.8 674.5,318.1 679.2,316.9 683.9,315.8 688.7,315.1 693.4,313.9 698.1,311.1 702.9,307.5 707.6,303.2 712.3,300.4 717.0,297.7 721.8,294.0 726.5,290.5 731.2,285.6 736.0,279.4 740.7,274.2 745.4,270.1 750.2,265.5 754.9,260.4 759.6,253.8 764.3,248.9 769.1,246.7 773.8,244.9 778.5,243.2 783.3,241.9 788.0,240.9 792.7,240.2 797.5,239.8 802.2,239.3 806.9,240.2 811.7,239.6 816.4,237.9 821.1,236.5 825.8,236.2 830.6,237.4 835.3,238.5 840.0,240.8 844.8,243.5 849.5,248.9 854.2,253.3 859.0,257.3 863.7,259.9 868.4,261.2 873.1,263.1 877.9,262.6 882.6,261.3 887.3,258.0 892.1,256.0 896.8,252.2 901.5,248.7 906.3,244.0 911.0,238.5 915.7,231.9 920.4,223.0 925.2,213.6 929.9,203.1 934.6,195.2 939.4,186.0 944.1,177.0 948.8,166.2 953.6,157.6 958.3,151.9 963.0,149.6 967.8,148.4 972.5,149.0 977.2,148.8 981.9,144.6 986.7,139.9 991.4,135.6 996.1,135.3 1000.9,134.0 1005.6,129.2 1010.3,123.4 1015.1,119.6 1019.8,114.9 1024.5,112.0 1029.2,111.1 1034.0,112.6 1038.7,114.6 1043.4,116.6 1048.2,119.4 1052.9,124.4 1057.6,127.9 1062.4,130.2 1067.1,134.5 1071.8,137.5 1076.5,138.8 1081.3,138.4 1086.0,136.3 1090.7,132.2 1095.5,127.6 1100.2,121.1 1104.9,114.6 1109.7,108.4 1114.4,103.4" fill="none" stroke="#d6d682" stroke-width="1.0" stroke-linejoin="round" shape-rendering="crispEdges"/>
<polyline points="2.8,288.9 7.5,296.5 12.2,305.1 17.0,319.0 21.7,333.0 26.4,341.1 31.2,344.0 35.9,346.2 40.6,348.0 45.3,352.3 50.1,358.0 54.8,363.4 59.5,367.8 64.3,371.5 69.0,370.6 73.7,368.6 78.5,369.0 83.2,371.2 87.9,373.7 92.6,377.9 97.4,379.2 102.1,378.0 106.8,375.0 111.6,373.0 116.3,368.8 121.0,364.8 125.8,362.2 130.5,360.6 135.2,357.5 139.9,355.6 144.7,354.3 149.4,353.3 154.1,352.1 158.9,350.6 163.6,349.4 168.3,346.8 173.1,342.2 177.8,336.3 182.5,333.6 187.3,330.6 192.0,329.8 196.7,330.9 201.4,333.2 206.2,331.6 210.9,330.8 215.6,330.9 220.4,330.0 225.1,329.1 229.8,328.8 234.6,325.3 239.3,321.8 244.0,317.2 248.7,312.8 253.5,311.4 258.2,312.1 262.9,311.8 267.7,313.5 272.4,316.8 277.1,319.6 281.9,322.5 286.6,324.5 291.3,326.6 296.0,327.5 300.8,327.4 305.5,327.0 310.2,327.7 315.0,327.1 319.7,324.9 324.4,322.5 329.2,320.9 333.9,319.9 338.6,319.1 343.4,319.1 348.1,319.6 352.8,321.2 357.5,322.4 362.3,323.4 367.0,324.2 371.7,325.1 376.5,324.6 381.2,325.5 385.9,326.9 390.7,328.7 395.4,330.1 400.1,331.6 404.8,331.9 409.6,332.4 414.3,333.5 419.0,334.7 423.8,335.5 428.5,334.8 433.2,333.8 438.0,332.2 442.7,330.6 447.4,329.4 452.1,329.6 456.9,330.1 461.6,331.8 466.3,332.5 471.1,332.2 475.8,331.3 480.5,329.4 485.3,325.6 490.0,322.3 494.7,320.1 499.5,318.4 504.2,318.8 508.9,321.0 513.6,322.8 518.4,324.4 523.1,326.8 527.8,327.9 532.6,328.3 537.3,329.2 542.0,329.9 546.8,329.6 551.5,328.5 556.2,326.9 560.9,324.6 565.7,322.4 570.4,318.4 575.1,313.7 579.9,311.1 584.6,310.8 589.3,310.6 594.1,313.3 598.8,317.8 603.5,320.2 608.2,320.7 613.0,320.9 617.7,319.7 622.4,318.5 627.2,317.5 631.9,317.9 636.6,318.1 641.4,318.9 646.1,319.4 650.8,321.0 655.6,321.3 660.3,321.1 665.0,320.0 669.7,318.3 674.5,315.3 679.2,312.5 683.9,310.6 688.7,310.1 693.4,309.5 698.1,306.9 702.9,302.5 707.6,295.8 712.3,290.7 717.0,285.9 721.8,281.2 726.5,278.5 731.2,275.4 736.0,268.2 740.7,262.5 745.4,259.0 750.2,252.4 754.9,245.5 759.6,239.4 764.3,235.3 769.1,234.4 773.8,237.3 778.5,240.9 783.3,244.3 788.0,246.5 792.7,246.1 797.5,242.4 802.2,237.8 806.9,236.0 811.7,232.6 816.4,229.8 821.1,230.7 825.8,234.5 830.6,238.8 835.3,244.4 840.0,251.8 844.8,256.2 849.5,263.3 854.2,267.7 859.0,270.1 863.7,268.1 868.4,266.1 873.1,262.8 877.9,257.4 882.6,252.5 887.3,247.9 892.1,245.8 896.8,241.6 901.5,239.9 906.3,235.4 911.0,229.1 915.7,218.0 920.4,204.3 925.2,187.2 929.9,170.8 934.6,161.3 939.4,153.9 944.1,149.7 948.8,145.2 953.6,144.4 958.3,142.4 963.0,145.3 967.8,147.0 972.5,152.8 977.2,153.2 981.9,146.8 986.7,134.5 991.4,124.1 996.1,117.9 1000.9,114.7 1005.6,111.5 1010.3,112.3 1015.1,115.0 1019.8,112.0 1024.5,109.4 1029.2,110.7 1034.0,112.9 1038.7,114.1 1043.4,121.2 1048.2,129.3 1052.9,138.1 1057.6,142.9 1062.4,146.4 1067.1,147.9 1071.8,145.7 1076.5,139.4 1081.3,134.0 1086.0,126.3 1090.7,116.5 1095.5,109.5 1100.2,102.7 1104.9,95.2 1109.7,90.6 1114.4,90.3" fill="none" stroke="#ffffff" stroke-width="1.0" stroke-linejoin="round" shape-rendering="crispEdges"/>
<g stroke="#d6d6d6" stroke-width="1.2" fill="none">
<path d="M56,396.4H70" stroke-width="1"/><path d="M54.5,396.4l4,-2.6v5.2z" fill="#d6d6d6" stroke="none"/>
<path d="M1089,67.3H1103" stroke-width="1"/><path d="M1104.5,67.3l-4,-2.6v5.2z" fill="#d6d6d6" stroke="none"/>
</g>
<g stroke="#ececec" stroke-width="1.3" fill="none">
<rect x="1095.4" y="42.1" width="12.4" height="7.2" rx="1" fill="#121418"/>
<path d="M1098.4,42.1v-2.4a3.6,3.4 0 0 1 7.2,0v0.2"/>
<rect x="1100.9" y="44" width="1.7" height="3" fill="#ececec" stroke="none"/>
</g>
<rect x="979" y="397" width="16" height="19" fill="#7c0a0a"/>
<rect x="897" y="47.6" width="194" height="1.2" fill="#fff"/>
</svg>
<div class="t" style="left:0px;top:4px;color:#d2d2d2"><span class="c">日线</span>(<span class="c">复权</span>)</div>
<div class="t" style="left:84px;top:4px;color:#fff">*ST<span class="c">阳光</span></div>
<div class="t" style="left:146px;top:4px"><span style="color:#fff">MA5: 3.86</span> <span style="color:#d2d27c">MA10: 3.76</span> <span style="color:#e2386c">MA20: 3.62</span> <span style="color:#32b446">MA30: 3.64</span> <span style="color:#dcdcdc">MA60: 3.25</span></div>
<div class="t" style="left:897px;top:32px;color:#fff;letter-spacing:0.2px">20250324-20260323 (236)</div>
<div class="t" style="left:72.5px;top:388px;color:#d0d0d0">1.29</div>
<div class="t" style="left:1055px;top:59px;color:#d0d0d0">4.06</div>
<div class="t" style="left:980px;top:397px;color:#fff;font-size:14px;line-height:18px;font-weight:700">榜</div>
</body></html>
